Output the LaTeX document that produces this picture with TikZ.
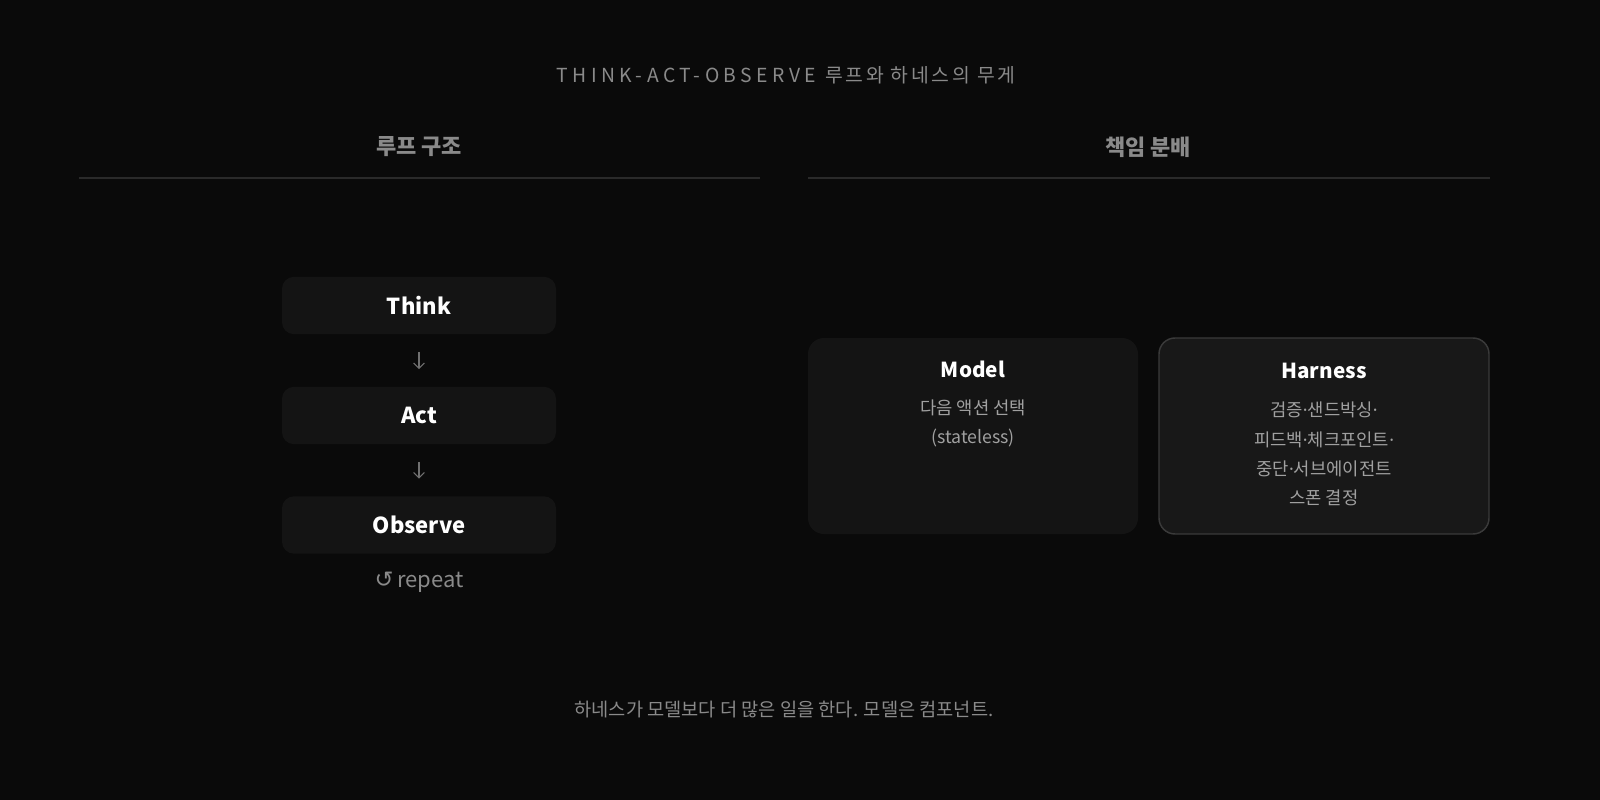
\documentclass[tikz,border=0pt]{standalone}
\usepackage{fontspec}
\setmainfont{Noto Sans CJK KR}
\newfontfamily\titlefont[LetterSpace=23]{Noto Sans CJK KR}
\newfontfamily\krtitlefont[LetterSpace=14]{Noto Sans CJK KR}
\newfontfamily\dotfont{Noto Sans}
\newfontfamily\symfont{DejaVu Sans}
\newcommand{\mdot}{{\dotfont ·}}
\usetikzlibrary{arrows.meta}

\definecolor{bgcol}{HTML}{0A0A0A}
\definecolor{boxcol}{HTML}{141414}
\definecolor{harncol}{HTML}{181818}
\definecolor{harnline}{HTML}{3A3A3A}
\definecolor{rulecol}{HTML}{2A2A2A}
\definecolor{titlecol}{HTML}{8A8A8A}
\definecolor{desccol}{HTML}{A0A0A0}
\definecolor{arrowcol}{HTML}{707070}

\begin{document}
\begin{tikzpicture}[x=0.75pt,y=-0.75pt,
  loopbox/.style={fill=boxcol, rounded corners=9pt, inner sep=0pt,
    minimum width=205.5pt, minimum height=43pt, text=white,
    font=\fontsize{16.5}{20}\selectfont\bfseries},
  rolebox/.style={rounded corners=12pt, inner sep=0pt,
    minimum width=247.5pt, minimum height=147pt},
  header/.style={text=titlecol, font=\fontsize{16.5}{20}\selectfont\bfseries},
  boxtitle/.style={text=white, font=\fontsize{15.5}{19}\selectfont\bfseries},
  desc/.style={text=desccol, font=\fontsize{13.3}{16}\selectfont},
  flow/.style={draw=arrowcol, line width=0.9pt, -{Straight Barb[length=4pt,width=8pt]},
    shorten >=13pt, shorten <=13pt}]

\fill [bgcol] (0,0) rectangle (1600,800);
\useasboundingbox (0,0) rectangle (1600,800);

% title
\node (title) at (786,75) [text=titlecol, font=\titlefont\fontsize{14.5}{18}\selectfont] {THINK-ACT-OBSERVE {\krtitlefont 루프와 하네스의 무게}};

% column headers
\node (loophead) at (419,147) [header] {루프 구조};
\node (rolehead) at (1148,147) [header] {책임 분배};
\draw [rulecol, line width=1.5pt] (79,178) -- (760,178);
\draw [rulecol, line width=1.5pt] (808,178) -- (1490,178);

% loop
\node (think) at (419,305.5) [loopbox] {Think};
\node (act) at (419,415.5) [loopbox] {Act};
\node (observe) at (419,525) [loopbox] {Observe};

\draw [flow] (think) -- (act);
\draw [flow] (act) -- (observe);

\node (repeat) at (419,582) [text=titlecol, font=\fontsize{16.5}{20}\selectfont] {{\symfont\fontsize{17}{18}\selectfont ↺}\,repeat};

% roles
\node (model) at (973,436) [rolebox, fill=boxcol] {};
\node (harness) at (1324,436) [rolebox, fill=harncol, draw=harnline, line width=1.1pt] {};

\node (modeltitle) at (973,369) [boxtitle] {Model};
\node at (973,408) [desc] {다음 액션 선택};
\node at (973,438) [desc] {(stateless)};

\node (harnesstitle) at (1324,371) [boxtitle] {Harness};
\node at (1324,410) [desc] {검증\mdot 샌드박싱\mdot};
\node at (1324,440) [desc] {피드백\mdot 체크포인트\mdot};
\node at (1324,469) [desc] {중단\mdot 서브에이전트};
\node at (1324,498) [desc] {스폰 결정};

% footer
\node (footer) at (784,710) [text=titlecol, font=\fontsize{14}{17}\selectfont] {하네스가 모델보다 더 많은 일을 한다. 모델은 컴포넌트.};
\end{tikzpicture}
\end{document}
